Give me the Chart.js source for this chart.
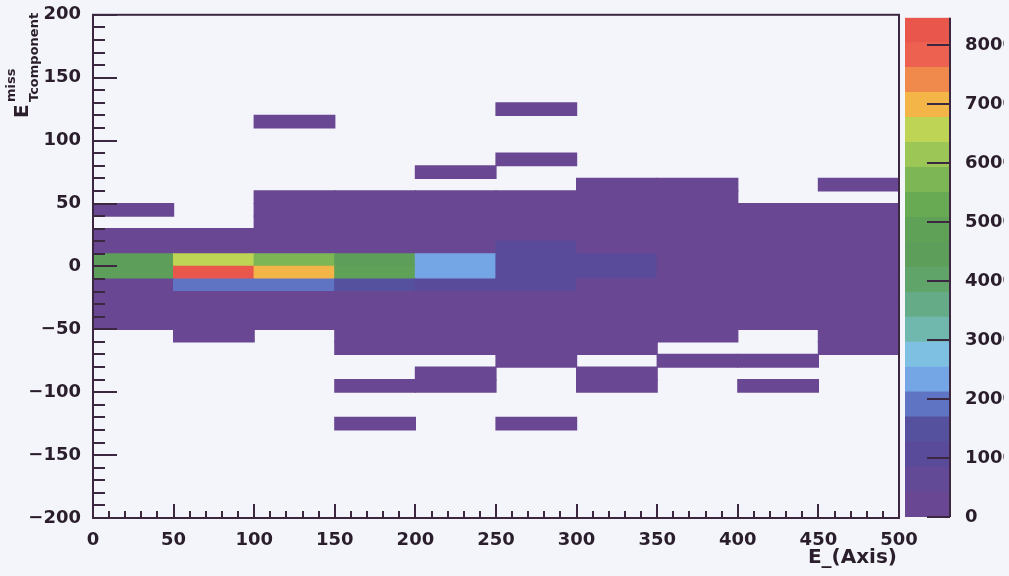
<!DOCTYPE html>
<html>
<head>
<meta charset="utf-8">
<script src="https://cdn.jsdelivr.net/npm/chart.js@4.4.1/dist/chart.umd.min.js"></script>
<style>
html, body { margin: 0; padding: 0; background: #f3f5fa; }
#wrap { position: relative; width: 1009px; height: 576px; overflow: hidden; }
#main { position: absolute; left: 0; top: 0; }
#pal { position: absolute; left: 905px; top: 0; }
</style>
</head>
<body>
<div id="wrap">
  <canvas id="main" width="1009" height="576"></canvas>
  <canvas id="pal" width="99" height="576"></canvas>
</div>
<script>
// ---------- DATA ----------
// x bins (E_(Axis)), 50 wide
const xBinLabels = ['0-50', '50-100', '100-150', '150-200', '200-250', '250-300', '300-350', '350-400', '400-450', '450-500'];
// low edges of the y bins, 10 wide, from -200 up to 190
const yBinLow = [-200, -190, -180, -170, -160, -150, -140, -130, -120, -110,
                 -100, -90, -80, -70, -60, -50, -40, -30, -20, -10,
                 0, 10, 20, 30, 40, 50, 60, 70, 80, 90,
                 100, 110, 120, 130, 140, 150, 160, 170, 180, 190];
const yBinWidth = 10;

// bin contents per x bin, one entry per y bin (bottom to top)
const counts0to50 = [0,0,0,0,0,0,0,0,0,0, 0,0,0,0,0,250,250,250,250,4400, 4500,250,250,0,60,0,0,0,0,0, 0,0,0,0,0,0,0,0,0,0];
const counts50to100 = [0,0,0,0,0,0,0,0,0,0, 0,0,0,0,250,250,250,250,1900,8458, 6500,250,250,0,0,0,0,0,0,0, 0,0,0,0,0,0,0,0,0,0];
const counts100to150 = [0,0,0,0,0,0,0,0,0,0, 0,0,0,0,0,250,250,250,1950,7000, 5700,250,250,250,250,250,0,0,0,0, 0,60,0,0,0,0,0,0,0,0];
const counts150to200 = [0,0,0,0,0,0,0,60,0,0, 60,0,0,250,250,250,250,250,1450,4700, 4600,250,250,250,250,250,0,0,0,0, 0,0,0,0,0,0,0,0,0,0];
const counts200to250 = [0,0,0,0,0,0,0,0,0,0, 60,60,0,250,250,250,250,250,1000,2300, 2300,250,250,250,250,250,0,60,0,0, 0,0,0,0,0,0,0,0,0,0];
const counts250to300 = [0,0,0,0,0,0,0,60,0,0, 0,0,250,250,250,250,250,250,1000,1200, 1200,1000,250,250,250,250,0,0,60,0, 0,0,60,0,0,0,0,0,0,0];
const counts300to350 = [0,0,0,0,0,0,0,0,0,0, 60,60,0,250,250,250,250,250,250,900, 900,250,250,250,250,250,250,0,0,0, 0,0,0,0,0,0,0,0,0,0];
const counts350to400 = [0,0,0,0,0,0,0,0,0,0, 0,0,60,0,250,250,250,250,250,250, 250,250,250,250,250,250,250,0,0,0, 0,0,0,0,0,0,0,0,0,0];
const counts400to450 = [0,0,0,0,0,0,0,0,0,0, 60,0,60,0,0,250,250,250,250,250, 250,250,250,250,250,0,0,0,0,0, 0,0,0,0,0,0,0,0,0,0];
const counts450to500 = [0,0,0,0,0,0,0,0,0,0, 0,0,0,250,250,250,250,250,250,250, 250,250,250,250,250,0,60,0,0,0, 0,0,0,0,0,0,0,0,0,0];

const columns = [counts0to50, counts50to100, counts100to150, counts150to200, counts200to250,
                 counts250to300, counts300to350, counts350to400, counts400to450, counts450to500];

const xTicks = [0, 50, 100, 150, 200, 250, 300, 350, 400, 450, 500];
const yTicks = [-200, -150, -100, -50, 0, 50, 100, 150, 200];
const zTicks = [0, 1000, 2000, 3000, 4000, 5000, 6000, 7000, 8000];

// palette, 20 contour bands, bottom to top
const paletteColors = ['#6a4792', '#634a97', '#5a4b9a', '#55519f', '#6074c4',
                       '#74a6e6', '#7ec0e2', '#70b8ad', '#66ab88', '#61a46a',
                       '#5d9e5a', '#5fa156', '#68a953', '#7cb655', '#9cc757',
                       '#bdd455', '#f3b548', '#f08a4c', '#ec6150', '#e8564c'];

const zMax = Math.max(...columns.map(c => Math.max(...c)));
const nBands = paletteColors.length;

function colorFor(z) {
  const k = Math.min(nBands - 1, Math.floor(z / (zMax / nBands)));
  return paletteColors[k];
}

const INK = '#2a1e2c';
const LINE = '#3b2840';
Chart.defaults.font.family = '"DejaVu Sans", "Liberation Sans", sans-serif';
Chart.defaults.font.weight = 'bold';
Chart.defaults.font.size = 18;
Chart.defaults.color = INK;

function minusSign(v) { return String(v).replace('-', '\u2212'); }

// ---------- MAIN HISTOGRAM ----------
const rowDatasets = yBinLow.map((low, r) => ({
  data: columns.map(col => col[r] > 0 ? [low, low + yBinWidth] : null),
  backgroundColor: columns.map(col => colorFor(col[r])),
  xAxisID: 'x',
  yAxisID: 'y'
}));

const frameAndTicks = {
  id: 'frameAndTicks',
  afterDatasetsDraw(chart) {
    const { ctx, chartArea: a, scales } = chart;
    const ys = scales.y, xs = scales.xv;
    ctx.save();
    ctx.strokeStyle = LINE;
    ctx.lineWidth = 2;
    ctx.beginPath();
    for (let v = -200; v <= 200; v += 10) {
      const py = Math.round(ys.getPixelForValue(v));
      const len = v % 50 === 0 ? 24 : 12;
      ctx.moveTo(a.left, py);
      ctx.lineTo(a.left + len, py);
    }
    for (let v = 0; v <= 500; v += 10) {
      const px = Math.round(xs.getPixelForValue(v));
      const len = v % 50 === 0 ? 14 : 7;
      ctx.moveTo(px, a.bottom);
      ctx.lineTo(px, a.bottom - len);
    }
    ctx.stroke();
    ctx.strokeRect(a.left, a.top, a.right - a.left, a.bottom - a.top);
    ctx.restore();
  },
  afterDraw(chart) {
    const { ctx, chartArea: a } = chart;
    ctx.save();
    ctx.fillStyle = INK;
    // x title
    ctx.font = 'bold 20px "DejaVu Sans"';
    ctx.textAlign = 'right';
    ctx.textBaseline = 'alphabetic';
    ctx.fillText('E_(Axis)', a.right - 2, 563);
    // y title, rotated
    ctx.rotate(-Math.PI / 2);
    ctx.textAlign = 'left';
    ctx.font = 'bold 20px "DejaVu Sans"';
    ctx.fillText('E', -118, 28);
    ctx.font = 'bold 13px "DejaVu Sans"';
    ctx.fillText('Tcomponent', -102, 38);
    ctx.fillText('miss', -102, 15);
    ctx.restore();
  }
};

new Chart(document.getElementById('main'), {
  type: 'bar',
  data: { labels: xBinLabels, datasets: rowDatasets },
  options: {
    responsive: false,
    animation: false,
    layout: { padding: { left: 0, top: 12, right: 110, bottom: 0 } },
    datasets: {
      bar: { grouped: false, categoryPercentage: 1, barPercentage: 1, borderWidth: 0,
             borderSkipped: false, inflateAmount: 0.6 }
    },
    plugins: { legend: { display: false }, tooltip: { enabled: false } },
    scales: {
      x: { type: 'category', display: false, offset: true },
      xv: {
        type: 'linear', position: 'bottom', min: 0, max: 500, offset: false,
        afterBuildTicks: s => { s.ticks = xTicks.map(v => ({ value: v })); },
        afterFit: s => { s.height = 58; },
        grid: { display: false, offset: false }, border: { display: false },
        ticks: { padding: 4, autoSkip: false, maxRotation: 0, callback: v => String(v) }
      },
      y: {
        type: 'linear', min: -200, max: 200,
        afterBuildTicks: s => { s.ticks = yTicks.map(v => ({ value: v })); },
        afterFit: s => { s.width = 93; },
        grid: { display: false }, border: { display: false },
        ticks: { padding: 4, autoSkip: false, callback: v => minusSign(v) }
      }
    }
  },
  plugins: [frameAndTicks]
});

// ---------- PALETTE AXIS ----------
const bandDatasets = paletteColors.map((c, k) => ({
  data: [[k * zMax / nBands, (k + 1) * zMax / nBands]],
  backgroundColor: c
}));

const paletteAxis = {
  id: 'paletteAxis',
  afterDatasetsDraw(chart) {
    const { ctx, chartArea: a, scales } = chart;
    ctx.save();
    ctx.strokeStyle = LINE;
    ctx.lineWidth = 2;
    ctx.beginPath();
    ctx.moveTo(a.right, a.top);
    ctx.lineTo(a.right, a.bottom);
    zTicks.forEach(v => {
      const py = Math.round(scales.y.getPixelForValue(v));
      ctx.moveTo(a.right, py);
      ctx.lineTo(a.right - 23, py);
    });
    ctx.stroke();
    ctx.restore();
  }
};

new Chart(document.getElementById('pal'), {
  type: 'bar',
  data: { labels: ['z'], datasets: bandDatasets },
  options: {
    responsive: false,
    animation: false,
    layout: { padding: { left: 0, top: 12, right: 0, bottom: 59 } },
    datasets: {
      bar: { grouped: false, categoryPercentage: 1, barPercentage: 1, borderWidth: 0,
             borderSkipped: false, inflateAmount: 0.6 }
    },
    plugins: { legend: { display: false }, tooltip: { enabled: false } },
    scales: {
      x: { type: 'category', display: false, offset: true },
      y: {
        type: 'linear', position: 'right', min: 0, max: zMax,
        afterBuildTicks: s => { s.ticks = zTicks.map(v => ({ value: v })); },
        afterFit: s => { s.width = 54; },
        grid: { display: false }, border: { display: false },
        ticks: { padding: 7, autoSkip: false, callback: v => String(v) }
      }
    }
  },
  plugins: [paletteAxis]
});
</script>
</body>
</html>
